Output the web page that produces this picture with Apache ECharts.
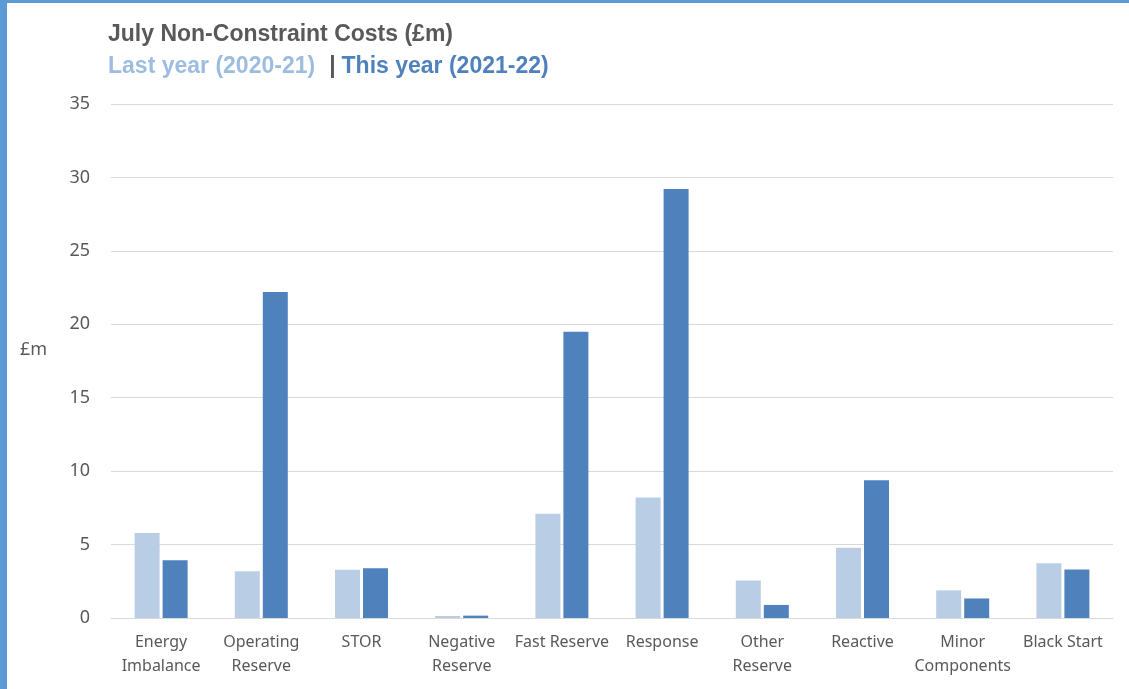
<!DOCTYPE html>
<html>
<head>
<meta charset="utf-8">
<script src="https://cdn.jsdelivr.net/npm/echarts@6/dist/echarts.min.js"></script>
<style>
    body { margin: 0; background: #fff; }
    #chart { width: 1129px; height: 689px; }
</style>
</head>
<body>
<div id="chart"></div>
<script>
    let categories = [
        'Energy\nImbalance', 'Operating\nReserve', 'STOR', 'Negative\nReserve', 'Fast Reserve',
        'Response', 'Other\nReserve', 'Reactive', 'Minor\nComponents', 'Black Start'
    ];
    let lastYear = [5.78, 3.19, 3.28, 0.14, 7.1, 8.2, 2.55, 4.79, 1.88, 3.72];
    let thisYear = [3.94, 22.19, 3.39, 0.16, 19.5, 29.22, 0.89, 9.38, 1.33, 3.3];
    let yTicks = [0, 5, 10, 15, 20, 25, 30, 35];

    let labelFont = '"Noto Sans", sans-serif';
    let titleFont = '"Liberation Sans", Arial, sans-serif';

    let chart = echarts.init(document.getElementById('chart'));

    chart.setOption({
        backgroundColor: '#fff',
        animation: false,
        title: [
            {
                text: 'July Non-Constraint Costs (£m)',
                left: 108,
                top: 23,
                padding: 0,
                textStyle: {
                    fontFamily: titleFont,
                    fontSize: 23,
                    fontWeight: 'bold',
                    color: '#595959'
                }
            },
            {
                text: '{a|Last year (2020-21)}  {b||} {c|This year (2021-22)}',
                left: 108,
                top: 55,
                padding: 0,
                textStyle: {
                    rich: {
                        a: { fontFamily: titleFont, fontSize: 23, fontWeight: 'bold', color: '#9dbde0' },
                        b: { fontFamily: titleFont, fontSize: 23, fontWeight: 'bold', color: '#595959', padding: [0, 1, 0, 4] },
                        c: { fontFamily: titleFont, fontSize: 23, fontWeight: 'bold', color: '#4f81bd' }
                    }
                }
            }
        ],
        graphic: [
            { type: 'rect', left: 0, top: 0, shape: { width: 7, height: 689 }, style: { fill: '#5b9bd5' } },
            { type: 'rect', left: 0, top: 0, shape: { width: 1129, height: 3 }, style: { fill: '#5b9bd5' } },
            {
                type: 'text',
                left: 20,
                top: 341,
                style: { text: '£m', fontFamily: labelFont, fontSize: 18, fill: '#595959' }
            }
        ],
        grid: { left: 111, right: 16, top: 104, bottom: 71 },
        xAxis: {
            type: 'category',
            data: categories,
            axisLine: { lineStyle: { color: '#d9d9d9', width: 1 } },
            axisTick: { show: false },
            axisLabel: {
                interval: 0,
                margin: 12,
                fontFamily: labelFont,
                fontSize: 16,
                lineHeight: 24,
                color: '#595959'
            }
        },
        yAxis: {
            type: 'value',
            min: yTicks[0],
            max: yTicks[yTicks.length - 1],
            interval: 5,
            axisLine: { show: false },
            axisTick: { show: false },
            axisLabel: {
                margin: 21,
                fontFamily: labelFont,
                fontSize: 18,
                color: '#595959'
            },
            splitLine: { lineStyle: { color: '#d9d9d9', width: 1 } }
        },
        series: [
            {
                name: 'Last year (2020-21)',
                type: 'bar',
                data: lastYear,
                barWidth: 25,
                barGap: '12%',
                itemStyle: { color: '#b9cde5' }
            },
            {
                name: 'This year (2021-22)',
                type: 'bar',
                data: thisYear,
                barWidth: 25,
                barGap: '12%',
                itemStyle: { color: '#4f81bd' }
            }
        ]
    });
</script>
</body>
</html>
